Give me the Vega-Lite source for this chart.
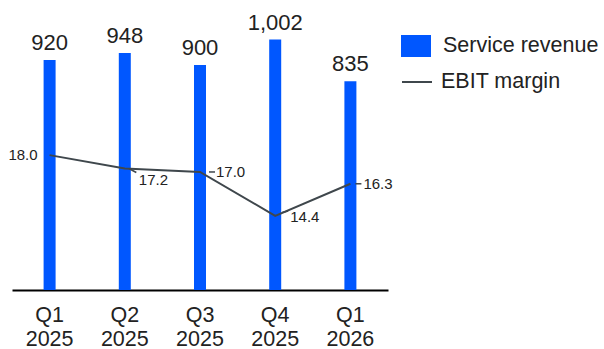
{
  "$schema": "https://vega.github.io/schema/vega-lite/v6.json",
  "width": 376,
  "height": 290,
  "autosize": "none",
  "padding": {"left": 12, "top": 0, "right": 216, "bottom": 59},
  "background": "white",
  "config": {
    "view": {"stroke": null},
    "font": "Liberation Sans",
    "text": {"font": "Liberation Sans"}
  },
  "data": {
    "values": [
      {"quarter": "Q1 2025", "revenue": 920, "margin": 18.0, "rev_series": "Service revenue", "m_series": "EBIT margin"},
      {"quarter": "Q2 2025", "revenue": 948, "margin": 17.2, "rev_series": "Service revenue", "m_series": "EBIT margin"},
      {"quarter": "Q3 2025", "revenue": 900, "margin": 17.0, "rev_series": "Service revenue", "m_series": "EBIT margin"},
      {"quarter": "Q4 2025", "revenue": 1002, "margin": 14.4, "rev_series": "Service revenue", "m_series": "EBIT margin"},
      {"quarter": "Q1 2026", "revenue": 835, "margin": 16.3, "rev_series": "Service revenue", "m_series": "EBIT margin"}
    ]
  },
  "encoding": {
    "x": {
      "field": "quarter",
      "type": "ordinal",
      "sort": null,
      "scale": {"paddingInner": 0, "paddingOuter": 0},
      "axis": {
        "title": null,
        "labelAngle": 0,
        "labelExpr": "split(datum.label, ' ')",
        "labelFontSize": 21.5,
        "labelColor": "#222222",
        "labelLineHeight": 24,
        "labelPadding": 14,
        "ticks": false,
        "domainColor": "#000000",
        "domainWidth": 2,
        "grid": false
      }
    }
  },
  "layer": [
    {
      "layer": [
        {
          "mark": {"type": "bar", "size": 12},
          "encoding": {
            "y": {"field": "revenue", "type": "quantitative", "scale": {"domain": [0, 1160]}, "axis": null},
            "fill": {
              "field": "rev_series",
              "type": "nominal",
              "scale": {"range": ["#0057FF"]},
              "legend": {
                "title": null,
                "orient": "none",
                "legendX": 389,
                "legendY": 31,
                "symbolType": "M-1,-0.7333H1V0.7333H-1Z",
                "symbolSize": 900,
                "symbolStrokeWidth": 0,
                "labelFontSize": 21.5,
                "labelColor": "#222222",
                "labelOffset": 12,
                "padding": 0
              }
            }
          }
        },
        {
          "mark": {"type": "text", "fontSize": 22, "color": "#222222", "baseline": "alphabetic", "dy": -10},
          "encoding": {
            "y": {"field": "revenue", "type": "quantitative", "scale": {"domain": [0, 1160]}, "axis": null},
            "text": {"field": "revenue", "type": "quantitative", "format": ","}
          }
        }
      ]
    },
    {
      "layer": [
        {
          "mark": {"type": "line", "strokeWidth": 2},
          "encoding": {
            "y": {"field": "margin", "type": "quantitative", "scale": {"domain": [10, 27.2]}, "axis": null},
            "stroke": {
              "field": "m_series",
              "type": "nominal",
              "scale": {"range": ["#3f474c"]},
              "legend": {
                "title": null,
                "orient": "none",
                "legendX": 389,
                "legendY": 66,
                "symbolType": "stroke",
                "symbolSize": 900,
                "symbolStrokeWidth": 2,
                "labelFontSize": 21.5,
                "labelColor": "#222222",
                "labelOffset": 8,
                "padding": 0
              }
            }
          }
        },
        {
          "transform": [{"filter": "datum.quarter == 'Q1 2025'"}],
          "mark": {"type": "text", "fontSize": 15, "color": "#222222", "align": "right", "baseline": "middle", "dx": -12},
          "encoding": {
            "y": {"field": "margin", "type": "quantitative", "scale": {"domain": [10, 27.2]}, "axis": null},
            "text": {"field": "margin", "type": "quantitative", "format": ".1f"}
          }
        },
        {
          "transform": [{"filter": "datum.quarter == 'Q3 2025'"}],
          "mark": {"type": "text", "fontSize": 15, "color": "#222222", "align": "left", "baseline": "middle", "dx": 16},
          "encoding": {
            "y": {"field": "margin", "type": "quantitative", "scale": {"domain": [10, 27.2]}, "axis": null},
            "text": {"field": "margin", "type": "quantitative", "format": ".1f"}
          }
        },
        {
          "transform": [{"filter": "datum.quarter == 'Q1 2026'"}],
          "mark": {"type": "text", "fontSize": 15, "color": "#222222", "align": "left", "baseline": "middle", "dx": 13},
          "encoding": {
            "y": {"field": "margin", "type": "quantitative", "scale": {"domain": [10, 27.2]}, "axis": null},
            "text": {"field": "margin", "type": "quantitative", "format": ".1f"}
          }
        },
        {
          "transform": [{"filter": "datum.quarter == 'Q2 2025'"}],
          "mark": {"type": "text", "fontSize": 15, "color": "#222222", "align": "left", "baseline": "middle", "dx": 14, "dy": 11},
          "encoding": {
            "y": {"field": "margin", "type": "quantitative", "scale": {"domain": [10, 27.2]}, "axis": null},
            "text": {"field": "margin", "type": "quantitative", "format": ".1f"}
          }
        },
        {
          "transform": [{"filter": "datum.quarter == 'Q4 2025'"}],
          "mark": {"type": "text", "fontSize": 15, "color": "#222222", "align": "left", "baseline": "middle", "dx": 15, "dy": 1},
          "encoding": {
            "y": {"field": "margin", "type": "quantitative", "scale": {"domain": [10, 27.2]}, "axis": null},
            "text": {"field": "margin", "type": "quantitative", "format": ".1f"}
          }
        },
        {
          "transform": [{"filter": "datum.quarter == 'Q3 2025'"}],
          "mark": {"type": "point", "shape": "stroke", "filled": false, "size": 36, "strokeWidth": 1.5, "color": "#3f474c", "opacity": 1, "xOffset": 12},
          "encoding": {
            "y": {"field": "margin", "type": "quantitative", "scale": {"domain": [10, 27.2]}, "axis": null}
          }
        },
        {
          "transform": [{"filter": "datum.quarter == 'Q1 2026'"}],
          "mark": {"type": "point", "shape": "stroke", "filled": false, "size": 36, "strokeWidth": 1.5, "color": "#3f474c", "opacity": 1, "xOffset": 8},
          "encoding": {
            "y": {"field": "margin", "type": "quantitative", "scale": {"domain": [10, 27.2]}, "axis": null}
          }
        },
        {
          "transform": [{"filter": "datum.quarter == 'Q4 2025'"}],
          "mark": {"type": "point", "shape": "stroke", "filled": false, "size": 36, "strokeWidth": 1.5, "color": "#3f474c", "opacity": 1, "xOffset": 10, "yOffset": -4, "angle": -15},
          "encoding": {
            "y": {"field": "margin", "type": "quantitative", "scale": {"domain": [10, 27.2]}, "axis": null}
          }
        },
        {
          "transform": [{"filter": "datum.quarter == 'Q2 2025'"}],
          "mark": {"type": "point", "shape": "stroke", "filled": false, "size": 64, "strokeWidth": 1.5, "color": "#3f474c", "opacity": 1, "xOffset": 8, "yOffset": 2, "angle": 28},
          "encoding": {
            "y": {"field": "margin", "type": "quantitative", "scale": {"domain": [10, 27.2]}, "axis": null}
          }
        }
      ]
    }
  ],
  "resolve": {"scale": {"y": "independent"}}
}
